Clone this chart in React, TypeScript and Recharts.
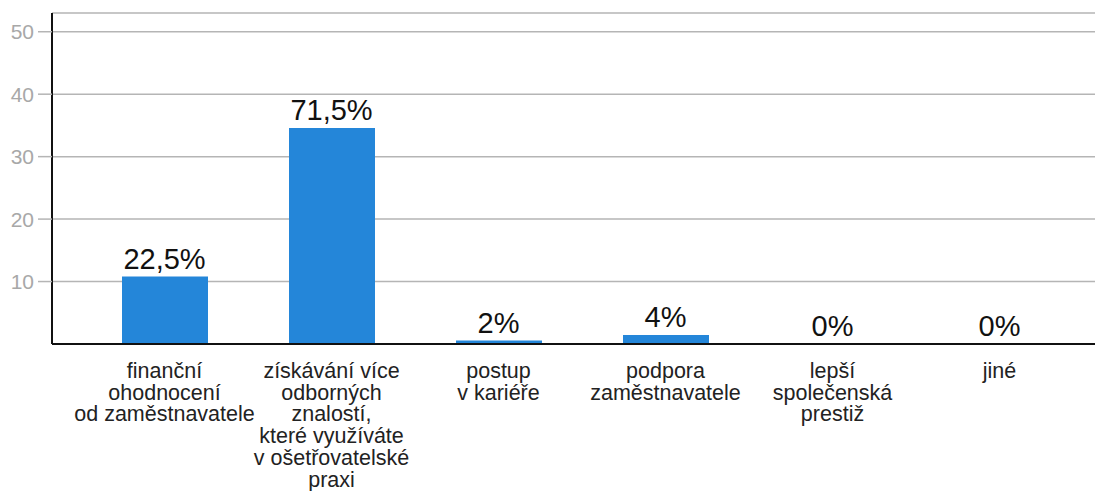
import React from "react";
import { ComposedChart, Bar, Line, XAxis, YAxis, CartesianGrid, LabelList } from "recharts";

const categories = [
  "finanční ohodnocení od zaměstnavatele",
  "získávání více odborných znalostí, které využíváte v ošetřovatelské praxi",
  "postup v kariéře",
  "podpora zaměstnavatele",
  "lepší společenská prestiž",
  "jiné",
];

// how the category names are broken into lines under the axis
const tickLines = [
  ["finanční", "ohodnocení", "od zaměstnavatele"],
  ["získávání více", "odborných", "znalostí,", "které využíváte", "v ošetřovatelské", "praxi"],
  ["postup", "v kariéře"],
  ["podpora", "zaměstnavatele"],
  ["lepší", "společenská", "prestiž"],
  ["jiné"],
];

const values = [10.8, 34.6, 0.55, 1.45, 0, 0];
const percentLabels = ["22,5%", "71,5%", "2%", "4%", "0%", "0%"];
const yTicks = [10, 20, 30, 40, 50];

const data = categories.map((name, i) => ({
  name,
  value: values[i],
  label: percentLabels[i],
}));

const FONT = "Liberation Sans, Arial, sans-serif";

const CategoryTick = (props: any) => {
  const { x, y, index } = props;
  const lines = tickLines[index] || [];
  return (
    <text x={x} y={y} textAnchor="middle" fill="#222" fontSize={21.5} fontFamily={FONT}>
      {lines.map((line, i) => (
        <tspan key={i} x={x} y={y + 26 + i * 21.7}>
          {line}
        </tspan>
      ))}
    </text>
  );
};

export default function App() {
  return (
    <div style={{ position: "absolute", left: 0, top: 0, background: "#fff" }}>
      <ComposedChart
        width={1095}
        height={491}
        data={data}
        margin={{ top: 13, right: 0, left: 0, bottom: 0 }}
      >
        <CartesianGrid vertical={false} stroke="#b5b5b5" strokeWidth={1.5} />
        <XAxis
          dataKey="name"
          height={147}
          padding={{ left: 29, right: 12 }}
          axisLine={{ stroke: "#111", strokeWidth: 2 }}
          tickLine={false}
          interval={0}
          tick={<CategoryTick />}
        />
        <YAxis
          width={52}
          domain={[0, 53]}
          ticks={yTicks}
          axisLine={{ stroke: "#111", strokeWidth: 2 }}
          tickLine={{ stroke: "#b5b5b5", strokeWidth: 1.5 }}
          tickSize={14}
          tickMargin={4}
          tick={{ fill: "#a8a8a8", fontSize: 21, fontFamily: FONT }}
        />
        <Bar dataKey="value" fill="#2486d9" barSize={86} isAnimationActive={false} />
        {/* invisible series that only carries the percentage labels, so 0% bars get one too */}
        <Line
          dataKey="value"
          stroke="none"
          dot={false}
          activeDot={false}
          legendType="none"
          isAnimationActive={false}
        >
          <LabelList
            dataKey="label"
            position="top"
            offset={8}
            fill="#111"
            fontSize={29}
            fontFamily={FONT}
          />
        </Line>
      </ComposedChart>
    </div>
  );
}
